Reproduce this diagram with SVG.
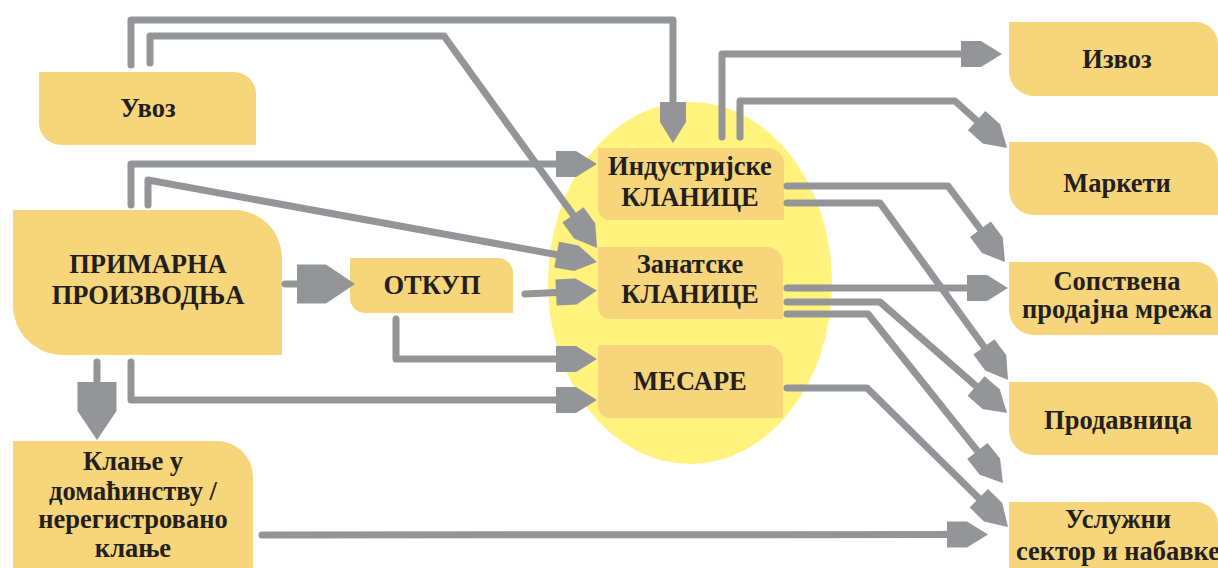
<svg xmlns="http://www.w3.org/2000/svg" width="1218" height="568" viewBox="0 0 1218 568">
<style>
.box{fill:#F6D57B}
.c{fill:none;stroke:#939598;stroke-width:7;stroke-linecap:round;stroke-linejoin:round}
.s{marker-end:url(#ah)}
.l{marker-end:url(#ahL)}
</style>
<defs>
<marker id="ah" markerUnits="userSpaceOnUse" viewBox="0 -14 42 28" refX="21" refY="0" markerWidth="42" markerHeight="28" orient="auto" overflow="visible">
<path d="M0,-13 L20,-13 L41,0 L20,13 L0,13 Z" fill="#939598"/>
</marker>
<marker id="ahL" markerUnits="userSpaceOnUse" viewBox="0 -20 58 40" refX="28" refY="0" markerWidth="58" markerHeight="40" orient="auto" overflow="visible">
<path d="M0,-19.5 L29,-19.5 L58,0 L29,19.5 L0,19.5 Z" fill="#939598"/>
</marker>
</defs>
<rect width="1218" height="568" fill="#FFFFFF"/>
<ellipse id="cluster" cx="690" cy="283" rx="142" ry="181" fill="#FFF27D"/>
<g id="uvoz"><path class="box" d="M39,72 H234 A22,22 0 0 1 256,94 V145 H61 A22,22 0 0 1 39,123 Z"/><text font-family="Liberation Serif" font-weight="bold" font-size="26.5" fill="#231F20" text-anchor="middle" x="148" y="117">Увоз</text></g>
<g id="primarna"><path class="box" d="M13,210 H234 A48,48 0 0 1 282,258 V355 H63 A50,50 0 0 1 13,305 Z"/><text font-family="Liberation Serif" font-weight="bold" font-size="26.5" fill="#231F20" text-anchor="middle" x="148" y="273">ПРИМАРНА</text><text font-family="Liberation Serif" font-weight="bold" font-size="26.5" fill="#231F20" text-anchor="middle" x="148" y="304">ПРОИЗВОДЊА</text></g>
<g id="otkup"><path class="box" d="M350,258 H498 A15,15 0 0 1 513,273 V313 H365 A15,15 0 0 1 350,298 Z"/><text font-family="Liberation Serif" font-weight="bold" font-size="26.5" fill="#231F20" text-anchor="middle" x="432" y="294">ОТКУП</text></g>
<g id="klanje"><path class="box" d="M13,441 H217 A36,36 0 0 1 253,477 V570 H13 Z"/><text font-family="Liberation Serif" font-weight="bold" font-size="26.5" fill="#231F20" text-anchor="middle" x="133" y="470">Клање у</text><text font-family="Liberation Serif" font-weight="bold" font-size="26.5" fill="#231F20" text-anchor="middle" x="133" y="500">домаћинству /</text><text font-family="Liberation Serif" font-weight="bold" font-size="26.5" fill="#231F20" text-anchor="middle" x="133" y="528">нерегистровано</text><text font-family="Liberation Serif" font-weight="bold" font-size="26.5" fill="#231F20" text-anchor="middle" x="133" y="557">клање</text></g>
<g id="industrijske"><path class="box" d="M598,148 H768 A16,16 0 0 1 784,164 V220 H610 A12,12 0 0 1 598,208 Z"/><text font-family="Liberation Serif" font-weight="bold" font-size="26.5" fill="#231F20" text-anchor="middle" x="690" y="175">Индустријске</text><text font-family="Liberation Serif" font-weight="bold" font-size="26.5" fill="#231F20" text-anchor="middle" x="690" y="206">КЛАНИЦЕ</text></g>
<g id="zanatske"><path class="box" d="M598,247 H767 A16,16 0 0 1 783,263 V319 H610 A12,12 0 0 1 598,307 Z"/><text font-family="Liberation Serif" font-weight="bold" font-size="26.5" fill="#231F20" text-anchor="middle" x="690" y="273">Занатске</text><text font-family="Liberation Serif" font-weight="bold" font-size="26.5" fill="#231F20" text-anchor="middle" x="690" y="303">КЛАНИЦЕ</text></g>
<g id="mesare"><path class="box" d="M598,345 H767 A16,16 0 0 1 783,361 V418 H610 A12,12 0 0 1 598,406 Z"/><text font-family="Liberation Serif" font-weight="bold" font-size="26.5" fill="#231F20" text-anchor="middle" x="690" y="390">МЕСАРЕ</text></g>
<g id="izvoz"><path class="box" d="M1009,22 H1196 A22,22 0 0 1 1218,44 V96 H1034 A25,25 0 0 1 1009,71 Z"/><text font-family="Liberation Serif" font-weight="bold" font-size="26.5" fill="#231F20" text-anchor="middle" x="1117" y="68">Извоз</text></g>
<g id="marketi"><path class="box" d="M1009,142 H1196 A22,22 0 0 1 1218,164 V215 H1034 A25,25 0 0 1 1009,190 Z"/><text font-family="Liberation Serif" font-weight="bold" font-size="26.5" fill="#231F20" text-anchor="middle" x="1117" y="192">Маркети</text></g>
<g id="sopstvena"><path class="box" d="M1009,262 H1196 A22,22 0 0 1 1218,284 V335 H1034 A25,25 0 0 1 1009,310 Z"/><text font-family="Liberation Serif" font-weight="bold" font-size="26.5" fill="#231F20" text-anchor="middle" x="1117" y="290">Сопствена</text><text font-family="Liberation Serif" font-weight="bold" font-size="26.5" fill="#231F20" text-anchor="middle" x="1117" y="318">продајна мрежа</text></g>
<g id="prodavnica"><path class="box" d="M1009,382 H1196 A22,22 0 0 1 1218,404 V455 H1034 A25,25 0 0 1 1009,430 Z"/><text font-family="Liberation Serif" font-weight="bold" font-size="26.5" fill="#231F20" text-anchor="middle" x="1118" y="429">Продавница</text></g>
<g id="usluzni"><path class="box" d="M1009,502 H1196 A22,22 0 0 1 1218,524 V570 H1009 Z"/><text font-family="Liberation Serif" font-weight="bold" font-size="26.5" fill="#231F20" text-anchor="middle" x="1118" y="528">Услужни</text><text font-family="Liberation Serif" font-weight="bold" font-size="26.5" fill="#231F20" text-anchor="middle" x="1118" y="560">сектор и набавке</text></g>
<g id="connectors">
<path class="c s" d="M131,65 L131,20 L673,20 L673,123"/>
<path class="c s" d="M150,63 L150,36 L444,36 L585.3,231.8"/>
<path class="c s" d="M131,205 L131,164 L577,164"/>
<path class="c s" d="M148,205 L148,180 L577.3,258.4"/>
<path class="c s" d="M525,294 L577,291.5"/>
<path class="c s" d="M396,319 L396,359 L577,359"/>
<path class="c s" d="M131,362 L131,400 L577,400"/>
<path class="c l" d="M97,362 L97,410"/>
<path class="c l" d="M285,284 L325,284"/>
<path class="c s" d="M262,535 L968,534.5"/>
<path class="c s" d="M722,137 L722,54 L982,54"/>
<path class="c s" d="M740,137 L740,101 L955,101 L992.2,134.6"/>
<path class="c s" d="M787,186 L948,186 L993,246"/>
<path class="c s" d="M787,203 L880,203 L996.3,363.8"/>
<path class="c s" d="M787,288 L988,288"/>
<path class="c s" d="M787,302 L880,302 L991.9,399.8"/>
<path class="c s" d="M787,314 L868,314 L990.5,467.4"/>
<path class="c s" d="M787,388 L867,388 L993.8,513"/>
</g>
</svg>
